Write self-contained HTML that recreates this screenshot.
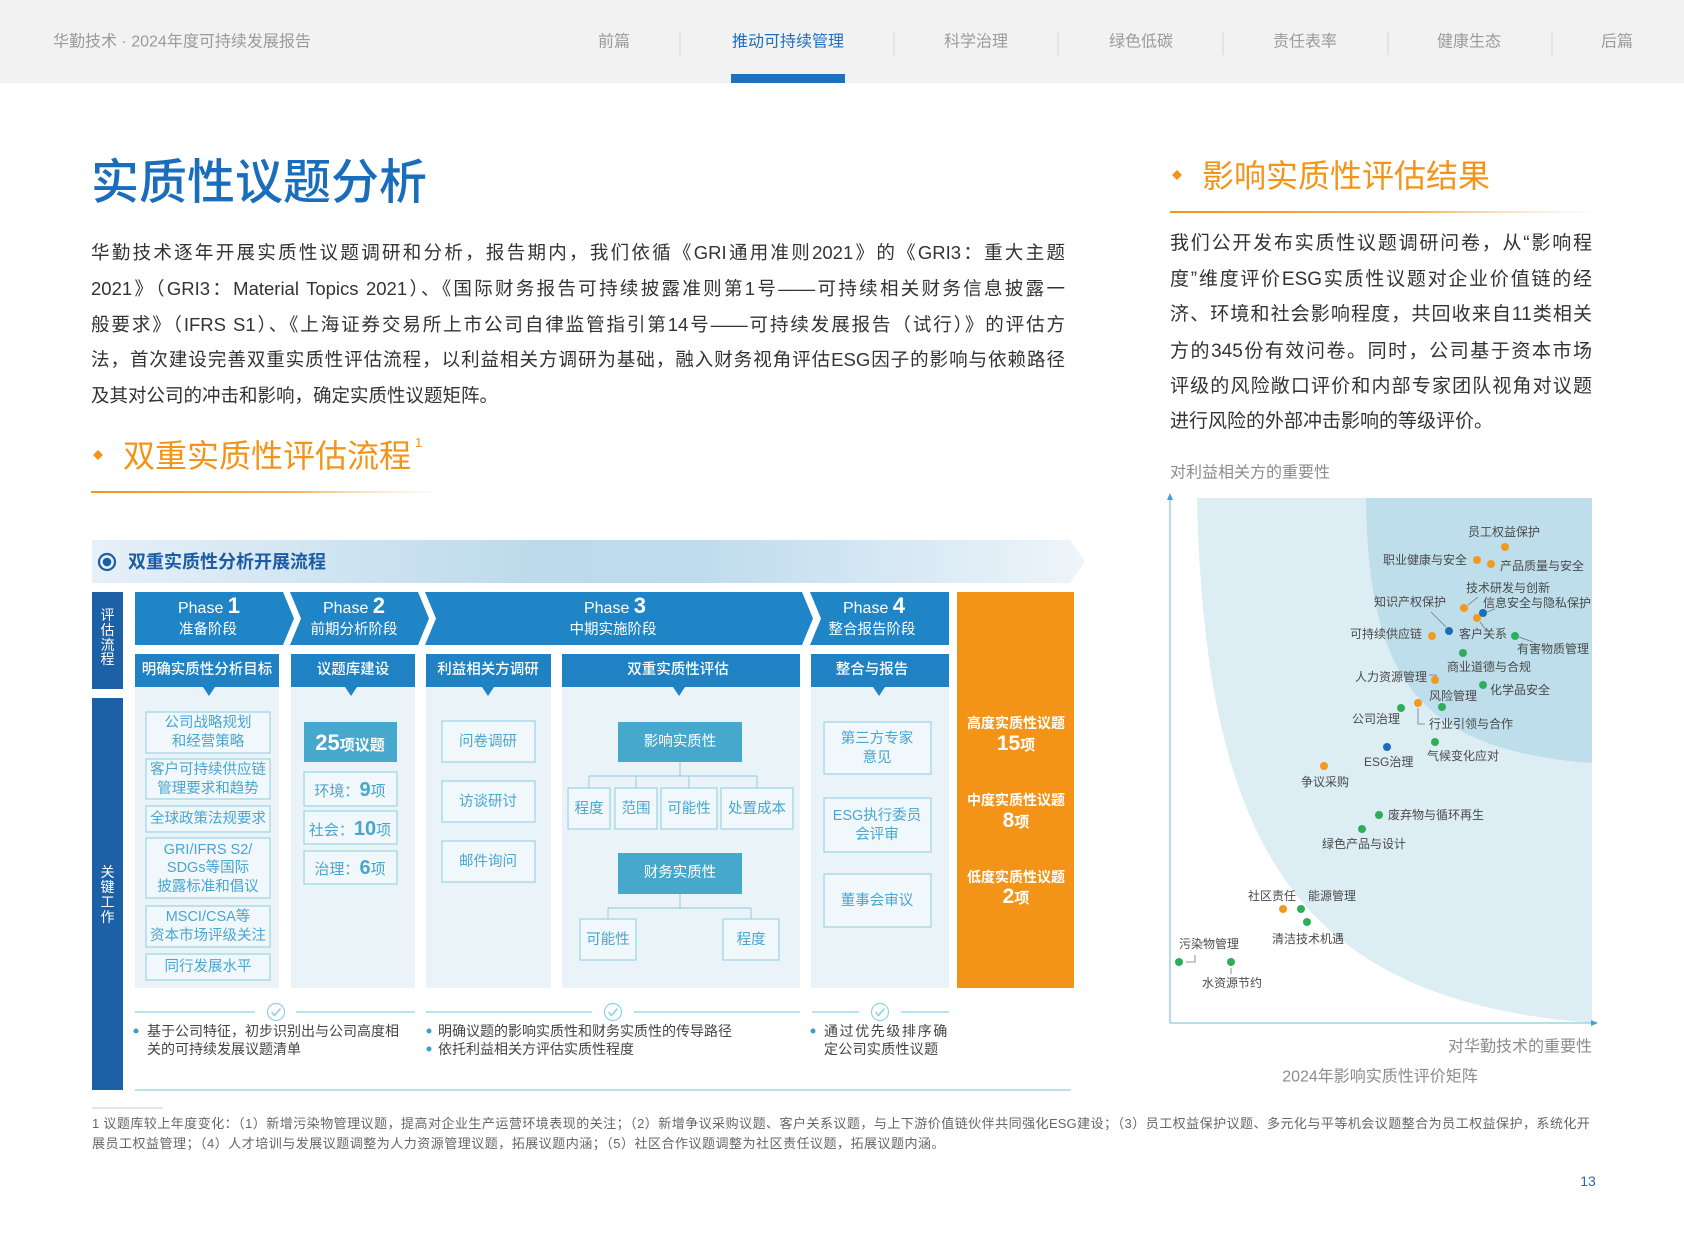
<!DOCTYPE html>
<html><head><meta charset="utf-8">
<style>
*{margin:0;padding:0;box-sizing:border-box}
body{width:1684px;height:1241px;overflow:hidden;background:#fff;font-family:"Liberation Sans","Noto Sans CJK SC",sans-serif}
#root{position:relative;width:1684px;height:1241px;overflow:hidden;background:#fff}
svg{position:absolute;left:0;top:0}
.ln{position:absolute;white-space:nowrap;height:36px;line-height:36px;overflow:visible}
.j{text-align:justify;text-align-last:justify;white-space:normal}
.mp{font-size:18.5px;color:#333;left:91px;width:974px}
.rp{font-size:19px;color:#333;left:1170px;width:422px}
.fn{position:absolute;left:92px;width:1498px;font-size:13px;color:#666;height:20px;line-height:20px;overflow:hidden}
</style></head><body><div id="root">
<svg width="1684" height="1241" viewBox="0 0 1684 1241" style="font-family:'Liberation Sans','Noto Sans CJK SC',sans-serif">
<defs>
<linearGradient id="ban" x1="0" x2="1" y1="0" y2="0">
<stop offset="0" stop-color="#e6f0f8"/><stop offset="0.45" stop-color="#bcdaec"/><stop offset="0.62" stop-color="#bfdcee"/><stop offset="1" stop-color="#eef5fa"/>
</linearGradient>
<linearGradient id="og" x1="0" x2="1" y1="0" y2="0">
<stop offset="0" stop-color="#f39418"/><stop offset="0.6" stop-color="#f6b45e"/><stop offset="1" stop-color="#f7f0e8" stop-opacity="0.3"/>
</linearGradient>
</defs>

<!-- header -->
<rect x="0" y="0" width="1684" height="83" fill="#f2f2f2"/>
<g font-size="16" fill="#9b9b9b" dominant-baseline="central">
<text x="53" y="42">华勤技术 · 2024年度可持续发展报告</text>
<text x="614" y="42" text-anchor="middle">前篇</text>
<text x="788" y="42" text-anchor="middle" fill="#1f6fbf">推动可持续管理</text>
<text x="976" y="42" text-anchor="middle">科学治理</text>
<text x="1141" y="42" text-anchor="middle">绿色低碳</text>
<text x="1305" y="42" text-anchor="middle">责任表率</text>
<text x="1469" y="42" text-anchor="middle">健康生态</text>
<text x="1617" y="42" text-anchor="middle">后篇</text>
</g>
<g stroke="#d6d6d6" stroke-width="1">
<line x1="680" y1="32" x2="680" y2="55"/><line x1="894" y1="32" x2="894" y2="55"/><line x1="1058" y1="32" x2="1058" y2="55"/>
<line x1="1223" y1="32" x2="1223" y2="55"/><line x1="1388" y1="32" x2="1388" y2="55"/><line x1="1552" y1="32" x2="1552" y2="55"/>
</g>
<rect x="731" y="74" width="114" height="9" fill="#1f6fbf"/>

<!-- title -->
<text x="91" y="183" font-size="48" fill="#1a6dbb" font-weight="500" dominant-baseline="central">实质性议题分析</text>

<!-- subtitle left -->
<polygon points="98,450 103,455 98,460 93,455" fill="#f39418"/>
<text x="123" y="456" font-size="32" fill="#f39418" dominant-baseline="central">双重实质性评估流程</text>
<text x="415" y="447" font-size="13" fill="#f39418">1</text>
<rect x="91" y="491" width="344" height="2" fill="url(#og)"/>

<!-- subtitle right -->
<polygon points="1177,170 1182,175 1177,180 1172,175" fill="#f39418"/>
<text x="1202" y="176" font-size="32" fill="#f39418" dominant-baseline="central">影响实质性评估结果</text>
<rect x="1170" y="211" width="420" height="2" fill="url(#og)"/>
<text x="1170" y="473" font-size="16" fill="#8c8c8c" dominant-baseline="central">对利益相关方的重要性</text>

<!-- banner -->
<polygon points="92,540 1070,540 1085,561.5 1070,583 92,583" fill="url(#ban)"/>
<circle cx="107" cy="562" r="8" fill="none" stroke="#1c5fa5" stroke-width="2.2"/>
<circle cx="107" cy="562" r="4.3" fill="#1c5fa5"/>
<text x="128" y="562" font-size="18" font-weight="bold" fill="#1c5ca3" dominant-baseline="central">双重实质性分析开展流程</text>

<!-- left dark columns -->
<rect x="92" y="592" width="31" height="97" fill="#1c61a6"/>
<rect x="92" y="698" width="31" height="392" fill="#1c61a6"/>
<g font-size="14" fill="#fff" text-anchor="middle" dominant-baseline="central">
<text x="107.5" y="615">评</text><text x="107.5" y="630">估</text><text x="107.5" y="645">流</text><text x="107.5" y="659">程</text>
<text x="107.5" y="872">关</text><text x="107.5" y="887">键</text><text x="107.5" y="902">工</text><text x="107.5" y="917">作</text>
</g>

<!-- phases -->
<g fill="#1f85c7">
<polygon points="135,592 283,592 294,618.5 283,645 135,645"/>
<polygon points="290,592 418,592 429,618.5 418,645 290,645 301,618.5"/>
<polygon points="425,592 802,592 813,618.5 802,645 425,645 436,618.5"/>
<polygon points="810,592 949,592 949,645 810,645 821,618.5"/>
</g>
<g fill="#fff" text-anchor="middle">
<text x="209" y="613"><tspan font-size="16">Phase </tspan><tspan font-size="22" font-weight="bold">1</tspan></text>
<text x="354" y="613"><tspan font-size="16">Phase </tspan><tspan font-size="22" font-weight="bold">2</tspan></text>
<text x="615" y="613"><tspan font-size="16">Phase </tspan><tspan font-size="22" font-weight="bold">3</tspan></text>
<text x="874" y="613"><tspan font-size="16">Phase </tspan><tspan font-size="22" font-weight="bold">4</tspan></text>
</g>
<g fill="#fff" text-anchor="middle" font-size="14.5" dominant-baseline="central">
<text x="208" y="630">准备阶段</text>
<text x="354" y="630">前期分析阶段</text>
<text x="613" y="630">中期实施阶段</text>
<text x="872" y="630">整合报告阶段</text>
</g>

<!-- columns bodies -->
<g fill="#eaf4f8">
<rect x="135" y="687" width="144" height="301"/>
<rect x="291" y="687" width="124" height="301"/>
<rect x="426" y="687" width="125" height="301"/>
<rect x="562" y="687" width="238" height="301"/>
<rect x="811" y="687" width="138" height="301"/>
</g>
<g fill="#1e82c4">
<rect x="135" y="654" width="144" height="33"/>
<rect x="291" y="654" width="124" height="33"/>
<rect x="426" y="654" width="125" height="33"/>
<rect x="562" y="654" width="238" height="33"/>
<rect x="811" y="654" width="138" height="33"/>
<polygon points="203,687 215,687 209,696"/>
<polygon points="345,687 357,687 351,696"/>
<polygon points="482,687 494,687 488,696"/>
<polygon points="673,687 685,687 679,696"/>
<polygon points="873,687 885,687 879,696"/>
</g>
<g fill="#fff" text-anchor="middle" font-size="14.5" font-weight="500" dominant-baseline="central">
<text x="207" y="670">明确实质性分析目标</text>
<text x="353" y="670">议题库建设</text>
<text x="488" y="670">利益相关方调研</text>
<text x="678" y="670">双重实质性评估</text>
<text x="872" y="670">整合与报告</text>
</g>

<!-- orange -->
<rect x="957" y="592" width="117" height="396" fill="#f39418"/>
<g fill="#fff" text-anchor="middle" font-weight="bold">
<text x="1016" y="723" font-size="14" dominant-baseline="central">高度实质性议题</text>
<text x="1016" y="750"><tspan font-size="21">15</tspan><tspan font-size="15">项</tspan></text>
<text x="1016" y="800" font-size="14" dominant-baseline="central">中度实质性议题</text>
<text x="1016" y="827"><tspan font-size="21">8</tspan><tspan font-size="15">项</tspan></text>
<text x="1016" y="877" font-size="14" dominant-baseline="central">低度实质性议题</text>
<text x="1016" y="903"><tspan font-size="21">2</tspan><tspan font-size="15">项</tspan></text>
</g>

<!-- outlined boxes -->
<g fill="#f1f8fb" stroke="#9dd2e5" stroke-width="1.2">
<rect x="146" y="712" width="124" height="41"/>
<rect x="146" y="759" width="124" height="40"/>
<rect x="146" y="806" width="124" height="26"/>
<rect x="146" y="838" width="124" height="60"/>
<rect x="146" y="906" width="124" height="41"/>
<rect x="146" y="954" width="124" height="26"/>
<rect x="304" y="772" width="93" height="34"/>
<rect x="304" y="811" width="93" height="33"/>
<rect x="304" y="851" width="93" height="33"/>
<rect x="442" y="721" width="93" height="41"/>
<rect x="442" y="781" width="93" height="41"/>
<rect x="442" y="841" width="93" height="41"/>
<rect x="568" y="788" width="42" height="41"/>
<rect x="615" y="788" width="42" height="41"/>
<rect x="661" y="788" width="56" height="41"/>
<rect x="721" y="788" width="72" height="41"/>
<rect x="580" y="919" width="56" height="41"/>
<rect x="723" y="919" width="56" height="41"/>
<rect x="824" y="722" width="107" height="52"/>
<rect x="824" y="798" width="107" height="54"/>
<rect x="824" y="874" width="107" height="53"/>
</g>
<g fill="#45a8cc">
<rect x="304" y="722" width="93" height="40"/>
<rect x="618" y="722" width="124" height="40"/>
<rect x="618" y="853" width="124" height="41"/>
</g>
<g stroke="#9dd2e5" stroke-width="1.2" fill="none">
<path d="M680,762 V776 M589,776 H757 M589,776 V788 M636,776 V788 M689,776 V788 M757,776 V788"/>
<path d="M680,894 V908 M608,908 H751 M608,908 V919 M751,908 V919"/>
</g>
<g fill="#4aa5cf" text-anchor="middle" font-size="14.5" dominant-baseline="central">
<text x="208" y="723">公司战略规划</text><text x="208" y="742">和经营策略</text>
<text x="208" y="770">客户可持续供应链</text><text x="208" y="789">管理要求和趋势</text>
<text x="208" y="819">全球政策法规要求</text>
<text x="208" y="850">GRI/IFRS S2/</text><text x="208" y="868">SDGs等国际</text><text x="208" y="887">披露标准和倡议</text>
<text x="208" y="917">MSCI/CSA等</text><text x="208" y="936">资本市场评级关注</text>
<text x="208" y="967">同行发展水平</text>
<text x="488" y="742">问卷调研</text>
<text x="488" y="802">访谈研讨</text>
<text x="488" y="862">邮件询问</text>
<text x="589" y="809">程度</text>
<text x="636" y="809">范围</text>
<text x="689" y="809">可能性</text>
<text x="757" y="809">处置成本</text>
<text x="608" y="940">可能性</text>
<text x="751" y="940">程度</text>
<text x="877" y="739">第三方专家</text><text x="877" y="758">意见</text>
<text x="877" y="816">ESG执行委员</text><text x="877" y="835">会评审</text>
<text x="877" y="901">董事会审议</text>
</g>
<g fill="#4aa5cf" text-anchor="middle">
<text x="350" y="796"><tspan font-size="15">环境：</tspan><tspan font-size="20" font-weight="bold">9</tspan><tspan font-size="15">项</tspan></text>
<text x="350" y="835"><tspan font-size="15">社会：</tspan><tspan font-size="20" font-weight="bold">10</tspan><tspan font-size="15">项</tspan></text>
<text x="350" y="874"><tspan font-size="15">治理：</tspan><tspan font-size="20" font-weight="bold">6</tspan><tspan font-size="15">项</tspan></text>
</g>
<g fill="#fff" text-anchor="middle">
<text x="350" y="750" font-weight="bold"><tspan font-size="22">25</tspan><tspan font-size="15">项议题</tspan></text>
<text x="680" y="742" font-size="14.5" dominant-baseline="central">影响实质性</text>
<text x="680" y="873" font-size="14.5" dominant-baseline="central">财务实质性</text>
</g>

<!-- bottom lines and checks -->
<g stroke="#8fd0e6" stroke-width="1.2" fill="none">
<path d="M135,1012 H255 M296,1012 H415 M426,1012 H592 M634,1012 H800 M812,1012 H859 M901,1012 H949"/>
<path d="M135,1090 H1071"/>
<circle cx="276" cy="1012" r="8.5" fill="#fff"/>
<circle cx="613" cy="1012" r="8.5" fill="#fff"/>
<circle cx="880" cy="1012" r="8.5" fill="#fff"/>
<path d="M271.5,1012 L274.5,1015.5 L280.5,1008.5 M608.5,1012 L611.5,1015.5 L617.5,1008.5 M875.5,1012 L878.5,1015.5 L884.5,1008.5" stroke-width="1.6"/>
</g>
<g fill="#3a9fd0">
<circle cx="136" cy="1031" r="2.5"/>
<circle cx="429" cy="1031" r="2.5"/>
<circle cx="429" cy="1049" r="2.5"/>
<circle cx="813" cy="1031" r="2.5"/>
</g>
<g fill="#444" font-size="14" dominant-baseline="central">
<text x="147" y="1031">基于公司特征，初步识别出与公司高度相</text>
<text x="147" y="1049">关的可持续发展议题清单</text>
<text x="438" y="1031">明确议题的影响实质性和财务实质性的传导路径</text>
<text x="438" y="1049">依托利益相关方评估实质性程度</text>
<text x="824" y="1031" letter-spacing="1.6">通过优先级排序确</text>
<text x="824" y="1049" letter-spacing="0.3">定公司实质性议题</text>
</g>

<!-- footnote separator -->
<line x1="92" y1="1108" x2="163" y2="1108" stroke="#cccccc" stroke-width="1"/>
<text x="1588" y="1181" font-size="14" fill="#1f6fbf" text-anchor="middle" dominant-baseline="central">13</text>

<!-- chart -->
<path d="M1197,498 L1592,498 L1592,1023 C1300,1000 1205,850 1197,498 Z" fill="#dcedf4"/>
<path d="M1366,498 L1592,498 L1592,763 C1420,750 1368,680 1366,498 Z" fill="#bddeea"/>
<g stroke="#8cc9df" stroke-width="1.3">
<line x1="1170" y1="1023" x2="1170" y2="499"/>
<line x1="1170" y1="1023" x2="1593" y2="1023"/>
</g>
<polygon points="1170,493 1167,500 1173,500" fill="#3ea3d3"/>
<polygon points="1598,1023 1591,1020 1591,1026" fill="#3ea3d3"/>

<g stroke="#777" stroke-width="0.8" fill="none">
<path d="M1478,597 L1468,605"/>
<path d="M1487,612 L1495,609"/>
<path d="M1480,622 L1486,630"/>
<path d="M1431,612 L1446,627"/>
<path d="M1519,637 L1533,642"/>
<path d="M1429,675 H1436 V678"/>
<path d="M1418,708 V724 H1425"/>
<path d="M1186,962 H1195 V955"/>
<path d="M1231,968 V974"/>
</g>
<g fill="#f39a1e">
<circle cx="1505" cy="547" r="4"/><circle cx="1477" cy="560" r="4"/><circle cx="1491" cy="564" r="4"/>
<circle cx="1464" cy="608" r="4"/><circle cx="1477" cy="618" r="4"/><circle cx="1432" cy="636" r="4"/>
<circle cx="1435" cy="680" r="4"/><circle cx="1418" cy="703" r="4"/><circle cx="1324" cy="766" r="4"/>
<circle cx="1283" cy="909" r="4"/>
</g>
<g fill="#1c6cb6">
<circle cx="1483" cy="613" r="4"/><circle cx="1449" cy="631" r="4"/><circle cx="1387" cy="747" r="4"/>
</g>
<g fill="#2fae5a">
<circle cx="1515" cy="636" r="4"/><circle cx="1463" cy="653" r="4"/><circle cx="1483" cy="685" r="4"/>
<circle cx="1442" cy="707" r="4"/><circle cx="1401" cy="708" r="4"/><circle cx="1435" cy="742" r="4"/>
<circle cx="1379" cy="815" r="4"/><circle cx="1362" cy="829" r="4"/><circle cx="1301" cy="909" r="4"/>
<circle cx="1307" cy="922" r="4"/><circle cx="1179" cy="962" r="4"/><circle cx="1231" cy="962" r="4"/>
</g>
<g font-size="12" fill="#4a4a4a" dominant-baseline="central">
<text x="1504" y="532" text-anchor="middle">员工权益保护</text>
<text x="1467" y="560" text-anchor="end">职业健康与安全</text>
<text x="1500" y="566">产品质量与安全</text>
<text x="1466" y="588">技术研发与创新</text>
<text x="1483" y="603">信息安全与隐私保护</text>
<text x="1459" y="634">客户关系</text>
<text x="1374" y="602">知识产权保护</text>
<text x="1422" y="634" text-anchor="end">可持续供应链</text>
<text x="1517" y="649">有害物质管理</text>
<text x="1447" y="667">商业道德与合规</text>
<text x="1427" y="677" text-anchor="end">人力资源管理</text>
<text x="1490" y="690">化学品安全</text>
<text x="1429" y="696">风险管理</text>
<text x="1429" y="724">行业引领与合作</text>
<text x="1352" y="719">公司治理</text>
<text x="1427" y="756">气候变化应对</text>
<text x="1364" y="762">ESG治理</text>
<text x="1301" y="782">争议采购</text>
<text x="1388" y="815">废弃物与循环再生</text>
<text x="1322" y="844">绿色产品与设计</text>
<text x="1248" y="896">社区责任</text>
<text x="1308" y="896">能源管理</text>
<text x="1272" y="939">清洁技术机遇</text>
<text x="1179" y="944">污染物管理</text>
<text x="1202" y="983">水资源节约</text>
</g>
<text x="1592" y="1047" font-size="16" fill="#8c8c8c" text-anchor="end" dominant-baseline="central">对华勤技术的重要性</text>
<text x="1380" y="1077" font-size="16" fill="#8c8c8c" text-anchor="middle" dominant-baseline="central">2024年影响实质性评价矩阵</text>
</svg>

<!-- main paragraph -->
<div class="ln mp j" style="top:235px">华勤技术逐年开展实质性议题调研和分析，报告期内，我们依循《GRI通用准则2021》的《GRI3：重大主题</div>
<div class="ln mp j" style="top:271px">2021》（GRI3：Material Topics 2021）、《国际财务报告可持续披露准则第1号——可持续相关财务信息披露一</div>
<div class="ln mp j" style="top:307px">般要求》（IFRS S1）、《上海证券交易所上市公司自律监管指引第14号——可持续发展报告（试行）》的评估方</div>
<div class="ln mp j" style="top:342px">法，首次建设完善双重实质性评估流程，以利益相关方调研为基础，融入财务视角评估ESG因子的影响与依赖路径</div>
<div class="ln mp" style="top:378px">及其对公司的冲击和影响，确定实质性议题矩阵。</div>

<!-- right paragraph -->
<div class="ln rp j" style="top:226px">我们公开发布实质性议题调研问卷，从“影响程</div>
<div class="ln rp j" style="top:262px">度”维度评价ESG实质性议题对企业价值链的经</div>
<div class="ln rp j" style="top:297px">济、环境和社会影响程度，共回收来自11类相关</div>
<div class="ln rp j" style="top:334px">方的345份有效问卷。同时，公司基于资本市场</div>
<div class="ln rp j" style="top:369px">评级的风险敞口评价和内部专家团队视角对议题</div>
<div class="ln rp" style="top:404px">进行风险的外部冲击影响的等级评价。</div>

<!-- footnote -->
<div class="fn j" style="top:1114px;letter-spacing:0.1px">1 议题库较上年度变化：（1）新增污染物管理议题，提高对企业生产运营环境表现的关注；（2）新增争议采购议题、客户关系议题，与上下游价值链伙伴共同强化ESG建设；（3）员工权益保护议题、多元化与平等机会议题整合为员工权益保护，系统化开</div>
<div class="fn" style="top:1134px;letter-spacing:0.5px">展员工权益管理；（4）人才培训与发展议题调整为人力资源管理议题，拓展议题内涵；（5）社区合作议题调整为社区责任议题，拓展议题内涵。</div>
</div></body></html>
